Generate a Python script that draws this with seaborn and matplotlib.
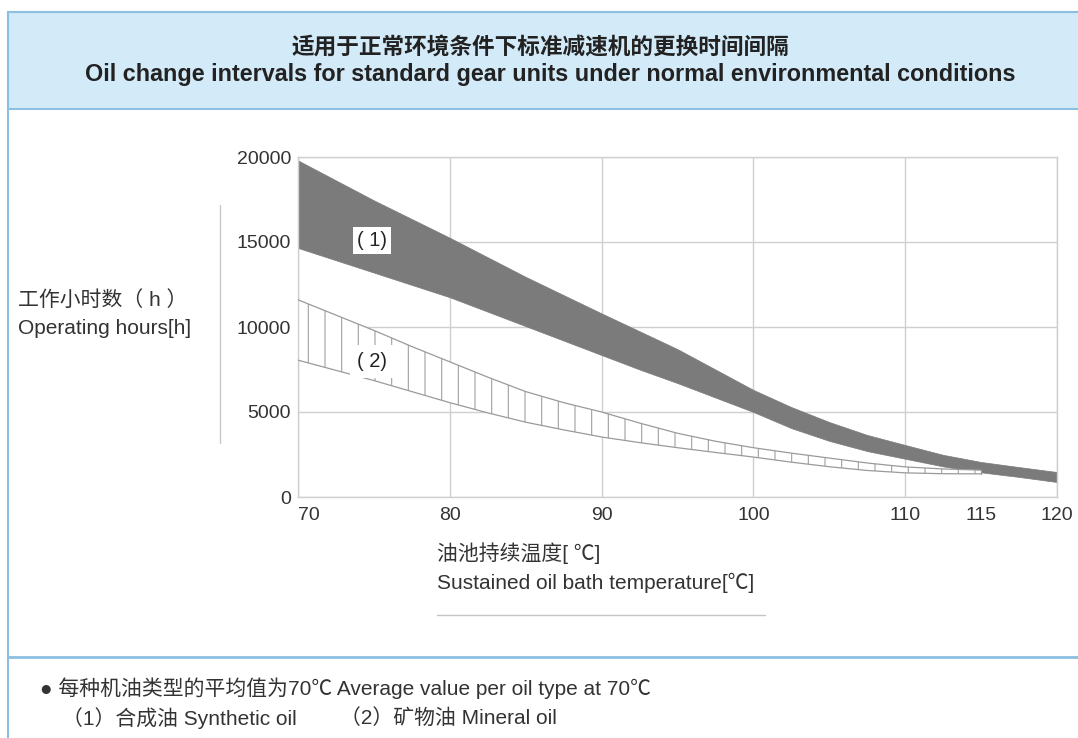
import numpy as np
import pandas as pd
import matplotlib
matplotlib.use('Agg')
import matplotlib.pyplot as plt
import seaborn as sns
from matplotlib.patches import Rectangle
from matplotlib.lines import Line2D

# Values
temps = [70, 75, 80, 85, 90, 92.5, 95, 97.5, 100, 102.5, 105, 107.5, 110, 112.5, 115, 117.5, 120]
synthetic_upper = [19800, 17450, 15250, 12950, 10800, 9750, 8700, 7500, 6300, 5290, 4410, 3650,
                   3060, 2480, 2060, 1760, 1470]
synthetic_lower = [14650, 13200, 11750, 10050, 8350, 7500, 6700, 5850, 5000, 4050, 3300, 2700,
                   2250, 1800, 1450, 1180, 880]

mineral_temps = [70, 72.5, 75, 77.5, 80, 82.5, 85, 87.5, 90, 92.5, 95, 97.5, 100, 102.5, 105,
                 107.5, 110, 112.5, 115]
mineral_upper = [11600, 10700, 9800, 8850, 7950, 7050, 6200, 5550, 5000, 4350, 3750, 3280, 2900,
                 2580, 2290, 2000, 1770, 1650, 1580]
mineral_lower = [8050, 7450, 6850, 6200, 5550, 4950, 4400, 3950, 3530, 3200, 2900, 2620, 2350,
                 2050, 1780, 1560, 1420, 1370, 1360]

x_ticks = [70, 80, 90, 100, 110, 120]
x_extra_tick = [115]
y_ticks = [0, 5000, 10000, 15000, 20000]

syn = pd.DataFrame({'temp': temps, 'upper': synthetic_upper, 'lower': synthetic_lower})
mine = pd.DataFrame({'temp': mineral_temps, 'upper': mineral_upper, 'lower': mineral_lower})

sns.set_theme(style='white')
plt.rcParams['font.family'] = ['Liberation Sans', 'Noto Sans CJK SC', 'DejaVu Sans']
plt.rcParams['hatch.linewidth'] = 0.8
plt.rcParams['hatch.color'] = '#a0a0a0'

W, H = 1078, 738
fig = plt.figure(figsize=(W / 100, H / 100), dpi=100)
fig.patch.set_facecolor('white')


def fx(x):
    return x / W


def fy(y):
    return 1 - y / H


text_col = '#333333'
blue_line = '#8cbfe0'

# header band and frame
fig.patches.append(Rectangle((fx(8), fy(109)), 1 - fx(8) + 0.01, (109 - 12) / H,
                             transform=fig.transFigure, facecolor='#d3eaf8',
                             edgecolor=blue_line, linewidth=1.5, zorder=0))
fig.lines.append(Line2D([fx(8), fx(8)], [0, fy(12)], transform=fig.transFigure,
                        color=blue_line, linewidth=1.5))
fig.lines.append(Line2D([fx(8), 1], [fy(657), fy(657)], transform=fig.transFigure,
                        color=blue_line, linewidth=2))
fig.lines.append(Line2D([fx(437), fx(765)], [fy(615), fy(615)], transform=fig.transFigure,
                        color='#c4c4c4', linewidth=1))
fig.lines.append(Line2D([fx(220), fx(220)], [fy(443), fy(205)], transform=fig.transFigure,
                        color='#c8c8c8', linewidth=1))

fig.text(fx(540), fy(47), '适用于正常环境条件下标准减速机的更换时间间隔', ha='center', va='center',
         fontsize=16.3, fontweight='bold', color='#222222')
fig.text(fx(550), fy(75), 'Oil change intervals for standard gear units under normal environmental conditions',
         ha='center', va='center', fontsize=16.8, fontweight='bold', color='#222222')

# axes
ax = fig.add_axes([fx(298), fy(497), (1057 - 298) / W, (497 - 157) / H])
ax.fill_between(syn['temp'], syn['lower'], syn['upper'], color='#7b7b7b', linewidth=0.5, zorder=2)
ax.fill_between(mine['temp'], mine['lower'], mine['upper'], facecolor='white', edgecolor='#a0a0a0',
                hatch='|', linewidth=0, zorder=2)
sns.lineplot(data=mine, x='temp', y='upper', ax=ax, color='#9a9a9a', linewidth=0.9, zorder=3)
sns.lineplot(data=mine, x='temp', y='lower', ax=ax, color='#9a9a9a', linewidth=0.9, zorder=3)
ax.plot([mineral_temps[-1], mineral_temps[-1]], [mineral_lower[-1], mineral_upper[-1]],
        color='#9a9a9a', linewidth=0.9, zorder=3)

ax.text(74.9, 15100, '( 1)', ha='center', va='center', fontsize=14.5, color='#222222', zorder=5,
        bbox=dict(boxstyle='square,pad=0.2', facecolor='white', edgecolor='none'))
ax.text(74.9, 7950, '( 2)', ha='center', va='center', fontsize=14.5, color='#222222', zorder=5,
        bbox=dict(boxstyle='square,pad=0.35', facecolor='white', edgecolor='none'))

ax.set_xlim(70, 120)
ax.set_ylim(0, 20000)
ax.set_xticks(x_ticks)
ax.set_xticks(x_extra_tick, minor=True)
ax.set_xticklabels([str(t) for t in x_ticks])
ax.set_xticklabels([str(t) for t in x_extra_tick], minor=True)
ax.set_yticks(y_ticks)
ax.set_yticklabels([str(t) for t in y_ticks])
ax.tick_params(axis='both', which='both', length=0, labelsize=14, colors=text_col)
ax.tick_params(axis='x', which='both', pad=7)
ax.tick_params(axis='y', pad=5)
ax.get_xticklabels()[0].set_ha('left')
ax.grid(True, which='major', color='#cfcfcf', linewidth=1)
ax.set_axisbelow(True)
for s in ax.spines.values():
    s.set_color('#cfcfcf')
    s.set_linewidth(1)
ax.set_xlabel('')
ax.set_ylabel('')

# axis titles
fig.text(fx(18), fy(300), '工作小时数（ h ）', ha='left', va='center', fontsize=15, color=text_col)
fig.text(fx(18), fy(328), 'Operating hours[h]', ha='left', va='center', fontsize=15, color=text_col)
fig.text(fx(437), fy(553), '油池持续温度[ ℃]', ha='left', va='center', fontsize=15, color=text_col)
fig.text(fx(437), fy(583), 'Sustained oil bath temperature[℃]', ha='left', va='center', fontsize=15,
         color=text_col)

# notes
fig.text(fx(40), fy(688), '● 每种机油类型的平均值为70℃ Average value per oil type at 70℃', ha='left',
         va='center', fontsize=15, color=text_col)
fig.text(fx(62), fy(718), '（1）合成油 Synthetic oil', ha='left', va='center', fontsize=15,
         color=text_col)
fig.text(fx(340), fy(718), '（2）矿物油 Mineral oil', ha='left', va='center', fontsize=15,
         color=text_col)

fig.savefig('out.png', dpi=100)
